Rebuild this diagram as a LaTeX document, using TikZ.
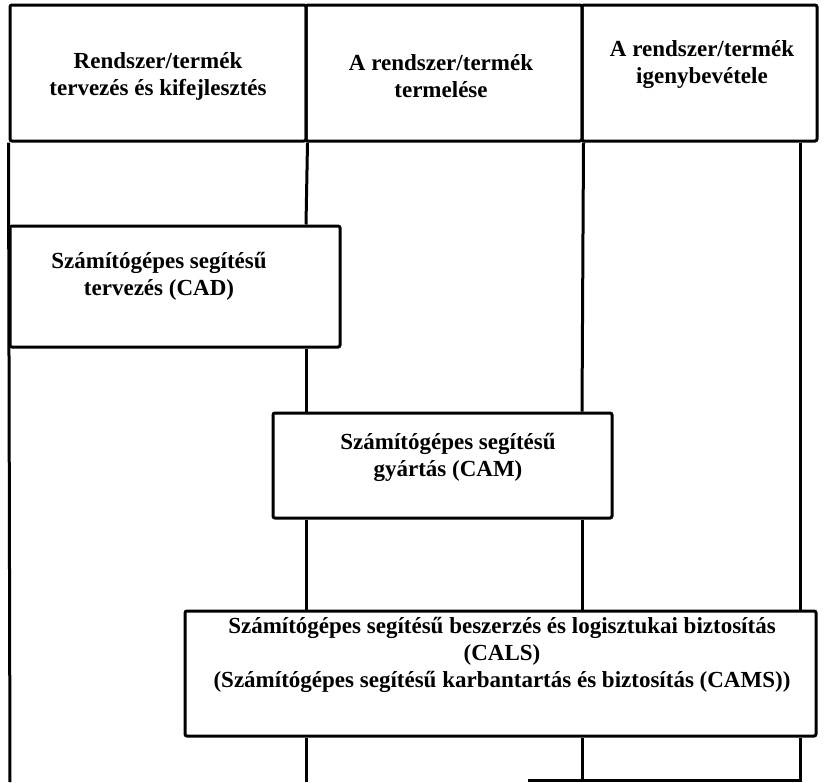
\documentclass[tikz,border=0pt]{standalone}
\usepackage{fontspec}
\setmainfont{Liberation Serif}

\tikzset{
  cell/.style = {draw, line width=3pt, rounded corners=2pt, inner sep=0pt},
  caption/.style = {font=\fontsize{23}{27}\selectfont\bfseries, align=center, inner sep=0pt},
  rail/.style = {line width=3pt}
}

\begin{document}
\begin{tikzpicture}[x=1pt, y=-1pt]
\useasboundingbox (0,0) rectangle (829,782);
% header row
\node [cell, minimum width=296pt, minimum height=136pt] (hdrA) at (158,73) {};
\node [cell, minimum width=276pt, minimum height=136pt] (hdrB) at (444,73) {};
\node [cell, minimum width=235pt, minimum height=136pt] (hdrC) at (699.5,73) {};
\node [caption] (hdrAtxt) at (158,76) {Rendszer/termék\\tervezés és kifejlesztés};
\node [caption] (hdrBtxt) at (441,76) {A rendszer/termék\\termelése};
\node [caption] (hdrCtxt) at (702,65) {A rendszer/termék\\igenybevétele};
% boxes
\node [cell, minimum width=330pt, minimum height=121pt] (cad) at (175,286.5) {};
\node [caption] (cadtxt) at (159,276) {Számítógépes segítésű\\tervezés (CAD)};
\node [cell, minimum width=339pt, minimum height=105pt] (cam) at (442.5,465.5) {};
\node [caption] (camtxt) at (448,457) {Számítógépes segítésű\\gyártás (CAM)};
\node [cell, minimum width=631pt, minimum height=125pt] (cals) at (500.5,673.5) {};
\node [caption] (calstxt) at (502,655) {Számítógépes segítésű beszerzés és logisztukai biztosítás\\(CALS)\\(Számítógépes segítésű karbantartás és biztosítás (CAMS))};
% rails
\coordinate (botL) at (10,782);
\coordinate (botA) at (306,782);
\coordinate (botB) at (582,782);
\coordinate (botC) at (800,782);
\draw [rail] (hdrA.south west) -- (botL);
\draw [rail] (hdrA.south east) -- (botA |- cad.north);
\draw [rail] (botA |- cad.south) -- (botA |- cam.north);
\draw [rail] (botA |- cam.south) -- (botA |- cals.north);
\draw [rail] (botA |- cals.south) -- (botA);
\draw [rail] (hdrB.south east) -- (botB |- cam.north);
\draw [rail] (botB |- cam.south) -- (botB |- cals.north);
\draw [rail] (botB |- cals.south) -- (botB);
\draw [rail] (botC |- hdrC.south) -- (botC |- cals.north);
\draw [rail] (botC |- cals.south) -- (botC);
\draw [rail] (528,780) -- (botC |- 0,780);
\end{tikzpicture}
\end{document}
